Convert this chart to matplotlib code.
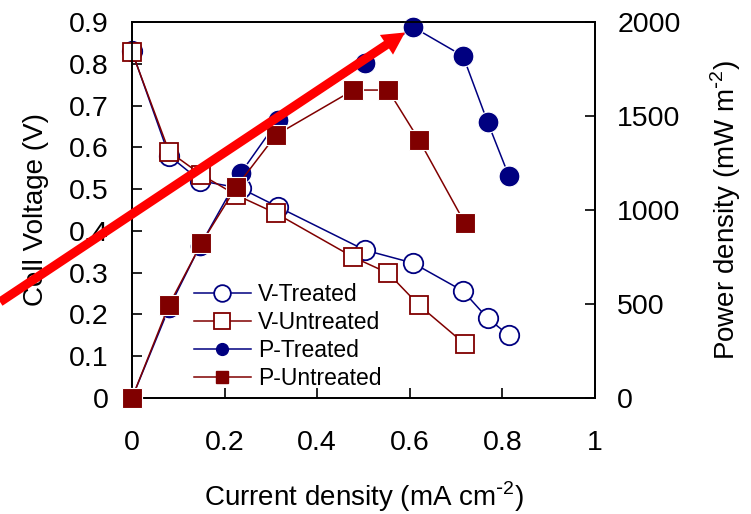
import matplotlib
matplotlib.use("Agg")
import matplotlib.pyplot as plt
from matplotlib.lines import Line2D

plt.rcParams["font.family"] = ["Liberation Sans", "DejaVu Sans"]

# Current density (mA cm^-2)
i_treated = [0.0, 0.08, 0.147, 0.235, 0.316, 0.503, 0.607, 0.715, 0.768, 0.814]
i_untreated = [0.0, 0.08, 0.150, 0.225, 0.311, 0.478, 0.553, 0.620, 0.719]

# Cell voltage (V)
v_treated = [0.83, 0.58, 0.52, 0.502, 0.457, 0.354, 0.323, 0.256, 0.191, 0.150]
v_untreated = [0.828, 0.59, 0.534, 0.486, 0.442, 0.337, 0.299, 0.222, 0.129]

# Power density (mW m^-2)
p_treated = [0, 480, 810, 1197, 1479, 1782, 1973, 1819, 1468, 1181]
p_untreated = [0, 495, 824, 1122, 1399, 1638, 1638, 1372, 930]

navy = "#000080"
maroon = "#800000"

fig = plt.figure(figsize=(7.51, 5.14), dpi=100)
ax = fig.add_axes([0.1758, 0.2257, 0.6165, 0.7315])
ax2 = ax.twinx()

lw = 1.1
ax.plot(i_treated, v_treated, "-o", color=navy, mfc="white", mec=navy,
        ms=14, mew=1.3, lw=lw, zorder=2, clip_on=False)
ax.plot(i_untreated, v_untreated, "-s", color=maroon, mfc="white", mec=maroon,
        ms=13, mew=1.3, lw=lw, zorder=3, clip_on=False)
ax2.plot(i_treated, p_treated, "-o", color=navy, mfc=navy, mec="white",
         ms=15, mew=0.8, lw=lw, zorder=2, clip_on=False)
ax2.plot(i_untreated, p_untreated, "-s", color=maroon, mfc=maroon, mec="white",
         ms=14, mew=0.8, lw=lw, zorder=3, clip_on=False)

ax.set_xlim(0, 1)
ax.set_ylim(0, 0.9)
ax2.set_ylim(0, 2000)
ax.set_xticks([0, 0.2, 0.4, 0.6, 0.8, 1])
ax.set_xticklabels(["0", "0.2", "0.4", "0.6", "0.8", "1"])
ax.set_yticks([0, 0.1, 0.2, 0.3, 0.4, 0.5, 0.6, 0.7, 0.8, 0.9])
ax.set_yticklabels(["0", "0.1", "0.2", "0.3", "0.4", "0.5", "0.6", "0.7", "0.8", "0.9"])
ax2.set_yticks([0, 500, 1000, 1500, 2000])

ax.tick_params(axis="x", direction="in", length=7, width=1.2, pad=23, labelsize=20.5)
ax.tick_params(axis="y", direction="in", length=7, width=1.2, pad=17, labelsize=20.5)
ax2.tick_params(axis="y", direction="in", length=7, width=1.2, pad=16, labelsize=20.5)
for a in (ax, ax2):
    for s in a.spines.values():
        s.set_linewidth(1.3)

ax.set_xlabel(r"Current density (mA cm$^{\mathregular{\text{-}2}}$)", fontsize=20, labelpad=17)
ax.set_ylabel("Cell Voltage (V)", fontsize=20, labelpad=14)
ax2.set_ylabel(r"Power density (mW m$^{\mathregular{\text{-}2}}$)", fontsize=20, labelpad=20)

handles = [
    Line2D([], [], color=navy, lw=lw, marker="o", mfc="white", mec=navy, ms=12, mew=1.3),
    Line2D([], [], color=maroon, lw=lw, marker="s", mfc="white", mec=maroon, ms=11, mew=1.3),
    Line2D([], [], color=navy, lw=lw, marker="o", mfc=navy, mec=navy, ms=8.5),
    Line2D([], [], color=maroon, lw=lw, marker="s", mfc=maroon, mec=maroon, ms=8.5),
]
labels = ["V-Treated", "V-Untreated", "P-Treated", "P-Untreated"]
leg = ax2.legend(handles, labels, loc="lower left", bbox_to_anchor=(0.113, -0.004),
                 frameon=False, fontsize=16.5, handlelength=2.5, handletextpad=0.3,
                 labelspacing=0.22, borderaxespad=0)
leg.set_zorder(5)

# Red arrow pointing at the peak power density of the treated cell
k = p_treated.index(max(p_treated))
ax2.annotate("", xy=(i_treated[k], p_treated[k]), xycoords="data",
             xytext=(0.0, 0.4125), textcoords="figure fraction",
             arrowprops=dict(arrowstyle="simple,head_length=16,head_width=17,tail_width=6.5",
                             mutation_scale=1, color="#ff0000", lw=0,
                             shrinkA=0, shrinkB=7),
             annotation_clip=False, zorder=10)

fig.savefig("out.png", dpi=100)
